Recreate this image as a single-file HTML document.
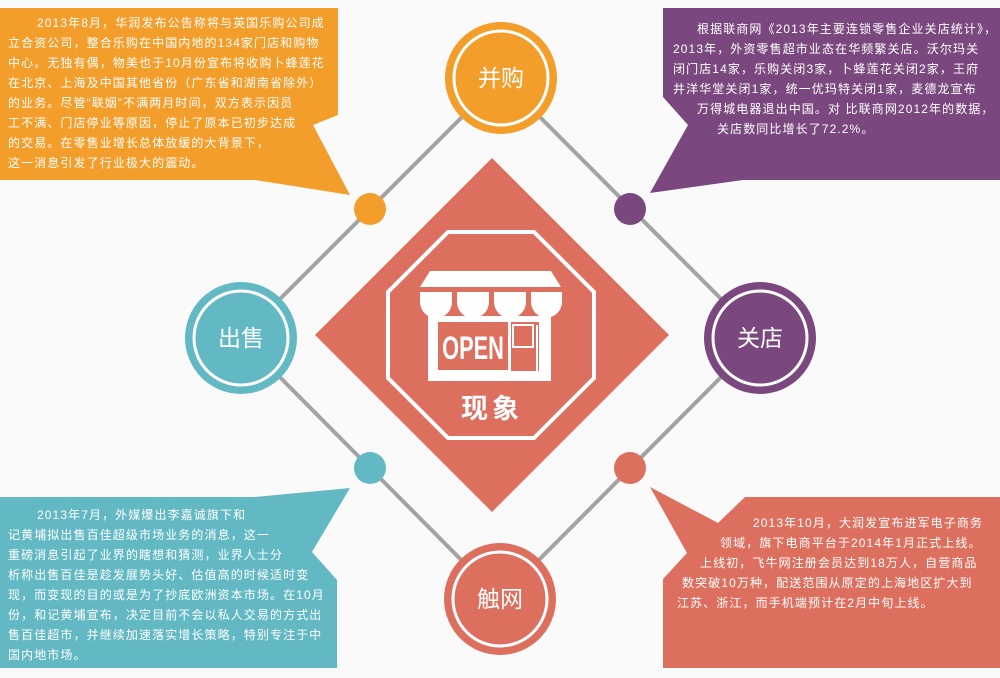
<!DOCTYPE html>
<html><head><meta charset="utf-8"><style>
html,body{margin:0;padding:0;}
body{width:1000px;height:678px;background:#fafafa;position:relative;overflow:hidden;font-family:"Liberation Sans","Noto Sans CJK SC",sans-serif;}
svg{position:absolute;left:0;top:0;}
.t{position:absolute;color:#fff;font-size:12px;line-height:14px;white-space:nowrap;letter-spacing:1.1px;}
</style></head><body>
<svg width="1000" height="678" viewBox="0 0 1000 678">
  <polygon points="501,78 241,338 500,599 760,338" fill="none" stroke="#a3a3a3" stroke-width="4"/>
  <polygon points="0,8 338,8 338,115 313,125 350,195 255,180 0,180" fill="#f39d2a"/>
  <polygon points="663,8 1000,8 1000,180 743,180 650,193 688,125 663,97" fill="#7a487e"/>
  <polygon points="0,497 255,497 350,488 312,552 337,580 337,668 0,668" fill="#63b9c3"/>
  <polygon points="745,497 1000,497 1000,668 663,668 663,579 687,553 650,487 718,523" fill="#dd6f5f"/>
  <polygon points="492,158 669,335 492,512 315,335" fill="#dd6f5f"/>
  <polygon points="448,232 534,232 594,292 594,378 534,438 448,438 388,378 388,292" fill="none" stroke="#fff" stroke-width="4"/>
  <polygon points="430,271 551,271 561,287 420,287" fill="#fff"/>
  <g fill="#fff">
    <path d="M420,292 h32 v10 a16,16 0 0 1 -32,0 z"/>
    <path d="M457,292 h32 v10 a16,16 0 0 1 -32,0 z"/>
    <path d="M494,292 h32 v10 a16,16 0 0 1 -32,0 z"/>
    <path d="M531,292 h31 v10 a15.5,15.5 0 0 1 -31,0 z"/>
    <rect x="428" y="316" width="123" height="65"/>
  </g>
  <rect x="438" y="322" width="70" height="48" fill="#dd6f5f"/>
  <rect x="511" y="322" width="28" height="49" fill="#dd6f5f"/>
  <rect x="513" y="325" width="20" height="22" fill="none" stroke="#fff" stroke-width="2"/>
  <rect x="536" y="325" width="2" height="46" fill="#fff"/>
  <text x="473" y="359" fill="#fff" font-family="Liberation Sans Narrow, Liberation Sans, sans-serif" font-weight="bold" font-size="32" text-anchor="middle" transform="translate(473 0) scale(0.68 1) translate(-473 0)">OPEN</text>
  <text x="492" y="418" fill="#fff" font-family="Noto Sans CJK SC, sans-serif" font-weight="bold" font-size="27" text-anchor="middle" letter-spacing="4">现象</text>
  <circle cx="370" cy="209" r="16" fill="#f39d2a"/>
  <circle cx="630" cy="209" r="16" fill="#7a487e"/>
  <circle cx="370" cy="468" r="16" fill="#63b9c3"/>
  <circle cx="630" cy="468" r="16" fill="#dd6f5f"/>
  <g font-family="Noto Sans CJK SC, sans-serif" font-size="23" fill="#fff" text-anchor="middle">
    <circle cx="501" cy="78" r="56" fill="#f39d2a"/><circle cx="501" cy="78" r="47" fill="none" stroke="#fff" stroke-width="3"/>
    <text x="501" y="86">并购</text>
    <circle cx="241" cy="338" r="56" fill="#63b9c3"/><circle cx="241" cy="338" r="47" fill="none" stroke="#fff" stroke-width="3"/>
    <text x="241" y="346">出售</text>
    <circle cx="760" cy="338" r="56" fill="#7a487e"/><circle cx="760" cy="338" r="47" fill="none" stroke="#fff" stroke-width="3"/>
    <text x="760" y="346">关店</text>
    <circle cx="500" cy="599" r="56" fill="#dd6f5f"/><circle cx="500" cy="599" r="47" fill="none" stroke="#fff" stroke-width="3"/>
    <text x="500" y="607">触网</text>
  </g>
</svg>
<div class="t" style="left:37px;top:16px">2013年8月，华润发布公告称将与英国乐购公司成</div>
<div class="t" style="left:8px;top:36px">立合资公司，整合乐购在中国内地的134家门店和购物</div>
<div class="t" style="left:8px;top:56px">中心。无独有偶，物美也于10月份宣布将收购卜蜂莲花</div>
<div class="t" style="left:8px;top:76px">在北京、上海及中国其他省份（广东省和湖南省除外）</div>
<div class="t" style="left:8px;top:96px">的业务。尽管“联姻”不满两月时间，双方表示因员</div>
<div class="t" style="left:8px;top:116px">工不满、门店停业等原因，停止了原本已初步达成</div>
<div class="t" style="left:8px;top:136px">的交易。在零售业增长总体放缓的大背景下，</div>
<div class="t" style="left:8px;top:156px">这一消息引发了行业极大的震动。</div>

<div class="t" style="left:697px;top:22px">根据联商网《2013年主要连锁零售企业关店统计》，</div>
<div class="t" style="left:673px;top:42px">2013年，外资零售超市业态在华频繁关店。沃尔玛关</div>
<div class="t" style="left:673px;top:62px">闭门店14家，乐购关闭3家，卜蜂莲花关闭2家，王府</div>
<div class="t" style="left:673px;top:82px">井洋华堂关闭1家，统一优玛特关闭1家，麦德龙宣布</div>
<div class="t" style="left:697px;top:102px">万得城电器退出中国。对 比联商网2012年的数据，</div>
<div class="t" style="left:717px;top:122px">关店数同比增长了72.2%。</div>

<div class="t" style="left:37px;top:508px">2013年7月，外媒爆出李嘉诚旗下和</div>
<div class="t" style="left:8px;top:528px">记黄埔拟出售百佳超级市场业务的消息，这一</div>
<div class="t" style="left:8px;top:548px">重磅消息引起了业界的瞎想和猜测，业界人士分</div>
<div class="t" style="left:8px;top:568px">析称出售百佳是趁发展势头好、估值高的时候适时变</div>
<div class="t" style="left:8px;top:588px">现，而变现的目的或是为了抄底欧洲资本市场。在10月</div>
<div class="t" style="left:8px;top:608px">份，和记黄埔宣布，决定目前不会以私人交易的方式出</div>
<div class="t" style="left:8px;top:628px">售百佳超市，并继续加速落实增长策略，特别专注于中</div>
<div class="t" style="left:8px;top:648px">国内地市场。</div>

<div class="t" style="left:753px;top:516px">2013年10月，大润发宣布进军电子商务</div>
<div class="t" style="left:720px;top:536px">领域，旗下电商平台于2014年1月正式上线。</div>
<div class="t" style="left:700px;top:556px">上线初，飞牛网注册会员达到18万人，自营商品</div>
<div class="t" style="left:682px;top:576px">数突破10万种，配送范围从原定的上海地区扩大到</div>
<div class="t" style="left:677px;top:596px">江苏、浙江，而手机端预计在2月中旬上线。</div>
</body></html>
